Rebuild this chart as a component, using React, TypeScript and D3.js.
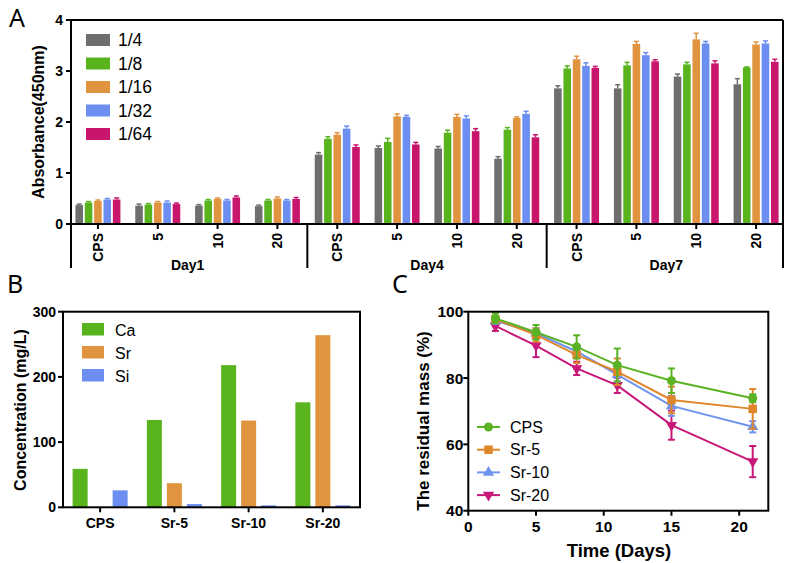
import React from 'react';
import * as d3 from 'd3';

const W = 789, H = 563;
const FONT = '"Liberation Sans", Arial, sans-serif';

// ---------- Panel A data ----------
const dilutions = ['1/4', '1/8', '1/16', '1/32', '1/64'];
const aColors = ['#6e6e6e', '#58b31c', '#e0943f', '#6b8ef0', '#c7166c'];
const concentrations = ['CPS', '5', '10', '20'];
const dayLabels = ['Day1', 'Day4', 'Day7'];
const abs14 = [0.37, 0.36, 0.36, 0.35, 1.36, 1.49, 1.48, 1.28, 2.66, 2.66, 2.89, 2.74];
const abs18 = [0.42, 0.38, 0.46, 0.46, 1.67, 1.61, 1.79, 1.85, 3.05, 3.11, 3.13, 3.07];
const abs116 = [0.45, 0.42, 0.49, 0.50, 1.75, 2.11, 2.10, 2.08, 3.23, 3.53, 3.62, 3.52];
const abs132 = [0.48, 0.42, 0.46, 0.46, 1.87, 2.10, 2.07, 2.16, 3.10, 3.31, 3.54, 3.54];
const abs164 = [0.48, 0.39, 0.52, 0.49, 1.51, 1.56, 1.82, 1.70, 3.06, 3.19, 3.15, 3.18];
const err14 = [0.02, 0.03, 0.02, 0.02, 0.04, 0.04, 0.04, 0.04, 0.05, 0.07, 0.05, 0.11];
const err18 = [0.02, 0.02, 0.02, 0.02, 0.04, 0.07, 0.05, 0.04, 0.05, 0.06, 0.04, 0.01];
const err116 = [0.02, 0.02, 0.02, 0.03, 0.04, 0.05, 0.05, 0.02, 0.06, 0.05, 0.12, 0.05];
const err132 = [0.02, 0.03, 0.02, 0.02, 0.05, 0.03, 0.05, 0.05, 0.06, 0.05, 0.04, 0.05];
const err164 = [0.03, 0.02, 0.03, 0.03, 0.04, 0.04, 0.05, 0.05, 0.03, 0.03, 0.05, 0.05];
const aTicks = [0, 1, 2, 3, 4];

// ---------- Panel B data ----------
const elements = ['Ca', 'Sr', 'Si'];
const bColors = ['#58b31c', '#e0943f', '#6b8ef0'];
const bGroups = ['CPS', 'Sr-5', 'Sr-10', 'Sr-20'];
const caConc = [59, 134, 218, 161];
const srConc = [0, 37, 133, 264];
const siConc = [26, 5, 3, 3];
const bTicks = [0, 100, 200, 300];

// ---------- Panel C data ----------
const cSeries = ['CPS', 'Sr-5', 'Sr-10', 'Sr-20'];
const cColors = ['#5ab324', '#e0862a', '#6f95ef', '#c8187a'];
const timeDays = [2, 5, 8, 11, 15, 21];
const massCPS = [98.0, 93.8, 89.4, 83.9, 79.2, 73.9];
const massSr5 = [97.7, 93.0, 87.0, 81.9, 73.4, 70.7];
const massSr10 = [97.3, 93.5, 88.0, 81.0, 71.6, 65.3];
const massSr20 = [95.7, 89.8, 82.9, 77.8, 65.8, 54.8];
const errCPS = [1.5, 2.2, 3.5, 5.0, 3.7, 1.2];
const errSr5 = [1.0, 2.0, 2.5, 4.0, 4.0, 6.0];
const errSr10 = [1.0, 1.5, 2.0, 2.0, 3.0, 1.7];
const errSr20 = [1.5, 3.5, 2.0, 2.3, 4.4, 4.7];
const cXTicks = [0, 5, 10, 15, 20];
const cYTicks = [40, 60, 80, 100];

function PanelA() {
  const series = [abs14, abs18, abs116, abs132, abs164];
  const errs = [err14, err18, err116, err132, err164];
  const cats = dayLabels.flatMap((d) => concentrations.map((c) => `${d}|${c}`));
  const x0 = d3.scaleBand<string>().domain(cats).range([68, 786]).padding(0);
  const x1 = d3.scaleBand<string>().domain(dilutions).range([0, 45]).paddingInner(0.19);
  const y = d3.scaleLinear().domain([0, 4]).range([224, 20]);
  const left = 71, right = 783, bottom = 224, top = 20, sepBottom = 268;
  const groupW = 45;
  return (
    <g>
      <text x={9} y={27} fontFamily='"Noto Sans", sans-serif' fontSize={25}>A</text>
      {series.map((vals, si) => (
        <g key={si} fill={aColors[si]} stroke={aColors[si]}>
          {vals.map((v, i) => {
            const cx = x0(cats[i])! + x0.bandwidth() / 2 - groupW / 2 + x1(dilutions[si])!;
            const bw = x1.bandwidth();
            const e = errs[si][i];
            return (
              <g key={i}>
                <rect x={cx} y={y(v)} width={bw} height={y(0) - y(v)} stroke="none" />
                <line x1={cx + bw / 2} x2={cx + bw / 2} y1={y(v)} y2={y(v + e)} strokeWidth={1.5} />
                <line x1={cx + bw / 2 - 2.5} x2={cx + bw / 2 + 2.5} y1={y(v + e)} y2={y(v + e)} strokeWidth={1.5} />
              </g>
            );
          })}
        </g>
      ))}
      {/* frame */}
      <g stroke="#000" strokeWidth={2} fill="none">
        <line x1={left} x2={right} y1={top} y2={top} />
        <line x1={left} x2={right} y1={bottom} y2={bottom} />
        <line x1={left} x2={left} y1={top} y2={sepBottom} />
        <line x1={right} x2={right} y1={top} y2={sepBottom} />
        {[1, 2].map((k) => {
          const xs = (x0(cats[k * 4 - 1])! + x0.bandwidth() + x0(cats[k * 4])!) / 2;
          return <line key={k} x1={xs} x2={xs} y1={bottom} y2={sepBottom} />;
        })}
        {aTicks.map((t) => (
          <line key={t} x1={left - 5} x2={left} y1={y(t)} y2={y(t)} />
        ))}
        {cats.map((c) => {
          const cx = x0(c)! + x0.bandwidth() / 2;
          return <line key={c} x1={cx} x2={cx} y1={bottom} y2={bottom + 5} />;
        })}
      </g>
      {aTicks.map((t) => (
        <text key={t} x={left - 8} y={y(t)} dy="0.36em" textAnchor="end" fontFamily={FONT} fontWeight="bold" fontSize={14}>{t}</text>
      ))}
      {cats.map((c) => {
        const cx = x0(c)! + x0.bandwidth() / 2;
        return (
          <text key={c} transform={`translate(${cx},233) rotate(-90)`} dy="0.36em" textAnchor="end" fontFamily={FONT} fontWeight="bold" fontSize={14}>{c.split('|')[1]}</text>
        );
      })}
      {dayLabels.map((d, k) => {
        const a = x0(cats[k * 4])!;
        const b = x0(cats[k * 4 + 3])! + x0.bandwidth();
        return <text key={d} x={(a + b) / 2} y={270} textAnchor="middle" fontFamily={FONT} fontWeight="bold" fontSize={14}>{d}</text>;
      })}
      <text transform="translate(44,122) rotate(-90)" textAnchor="middle" fontFamily={FONT} fontWeight="bold" fontSize={16}>Absorbance(450nm)</text>
      {dilutions.map((d, i) => (
        <g key={d}>
          <rect x={86} y={34 + i * 23.5} width={24} height={12} fill={aColors[i]} />
          <text x={118} y={46 + i * 23.5} fontFamily={FONT} fontSize={17.5}>{d}</text>
        </g>
      ))}
    </g>
  );
}

function PanelB() {
  const x0 = d3.scaleBand<string>().domain(bGroups).range([63, 360]).padding(0);
  const x1 = d3.scaleBand<string>().domain(elements).range([0, 55]).paddingInner(0.25);
  const y = d3.scaleLinear().domain([0, 300]).range([507.3, 311.7]);
  const series = [caConc, srConc, siConc];
  const left = 63, right = 360, top = 311.7, bottom = 507.3;
  return (
    <g>
      <text x={7} y={293} fontFamily='"Noto Sans", sans-serif' fontSize={25}>B</text>
      {series.map((vals, si) => (
        <g key={si} fill={bColors[si]}>
          {vals.map((v, i) => {
            const bx = x0(bGroups[i])! + x0.bandwidth() / 2 - 27.5 + x1(elements[si])!;
            return <rect key={i} x={bx} y={y(v)} width={x1.bandwidth()} height={y(0) - y(v)} />;
          })}
        </g>
      ))}
      <rect x={left} y={top} width={right - left} height={bottom - top} fill="none" stroke="#000" strokeWidth={2} />
      <g stroke="#000" strokeWidth={2}>
        {bTicks.map((t) => <line key={t} x1={left - 5} x2={left} y1={y(t)} y2={y(t)} />)}
        {bGroups.map((g) => {
          const cx = x0(g)! + x0.bandwidth() / 2;
          return <line key={g} x1={cx} x2={cx} y1={bottom} y2={bottom + 5} />;
        })}
      </g>
      {bTicks.map((t) => (
        <text key={t} x={left - 7} y={y(t)} dy="0.36em" textAnchor="end" fontFamily={FONT} fontWeight="bold" fontSize={14}>{t}</text>
      ))}
      {bGroups.map((g) => (
        <text key={g} x={x0(g)! + x0.bandwidth() / 2} y={528} textAnchor="middle" fontFamily={FONT} fontWeight="bold" fontSize={14}>{g}</text>
      ))}
      <text transform="translate(26,410) rotate(-90)" textAnchor="middle" fontFamily={FONT} fontWeight="bold" fontSize={16}>Concentration (mg/L)</text>
      {elements.map((e, i) => (
        <g key={e}>
          <rect x={82} y={323 + i * 23} width={22} height={12.5} fill={bColors[i]} />
          <text x={115} y={335.5 + i * 23} fontFamily={FONT} fontSize={16}>{e}</text>
        </g>
      ))}
    </g>
  );
}

function Marker({ kind, x, y, color }: { kind: number; x: number; y: number; color: string }) {
  const types = [d3.symbolCircle, d3.symbolSquare, d3.symbolTriangle, d3.symbolTriangle];
  const sizes = [64, 72, 55, 55];
  const path = d3.symbol().type(types[kind]).size(sizes[kind])()!;
  const rot = kind === 3 ? 180 : 0;
  return <path d={path} transform={`translate(${x},${y}) rotate(${rot})`} fill={color} />;
}

function PanelC() {
  const x = d3.scaleLinear().domain([0, 22.15]).range([468.3, 768.3]);
  const y = d3.scaleLinear().domain([40, 100]).range([510.7, 311.7]);
  const series = [massCPS, massSr5, massSr10, massSr20];
  const errs = [errCPS, errSr5, errSr10, errSr20];
  const left = 468.3, right = 768.3, top = 311.7, bottom = 510.7;
  const line = d3.line<number>().x((_, i) => x(timeDays[i])).y((v) => y(v));
  const order = [3, 2, 1, 0];
  return (
    <g>
      <text x={392} y={293} fontFamily='"Noto Sans", sans-serif' fontSize={25}>C</text>
      {order.map((si) => (
        <g key={si}>
          <path d={line(series[si])!} fill="none" stroke={cColors[si]} strokeWidth={2} />
          {series[si].map((v, i) => {
            const e = errs[si][i];
            const px = x(timeDays[i]);
            return (
              <g key={i} stroke={cColors[si]} strokeWidth={2}>
                <line x1={px} x2={px} y1={y(v - e)} y2={y(v + e)} />
                <line x1={px - 3.5} x2={px + 3.5} y1={y(v - e)} y2={y(v - e)} />
                <line x1={px - 3.5} x2={px + 3.5} y1={y(v + e)} y2={y(v + e)} />
              </g>
            );
          })}
          {series[si].map((v, i) => (
            <Marker key={i} kind={si} x={x(timeDays[i])} y={y(v)} color={cColors[si]} />
          ))}
        </g>
      ))}
      <rect x={left} y={top} width={right - left} height={bottom - top} fill="none" stroke="#000" strokeWidth={2} />
      <g stroke="#000" strokeWidth={2}>
        {cYTicks.map((t) => <line key={t} x1={left - 5} x2={left} y1={y(t)} y2={y(t)} />)}
        {cXTicks.map((t) => <line key={t} x1={x(t)} x2={x(t)} y1={bottom} y2={bottom + 5} />)}
      </g>
      {cYTicks.map((t) => (
        <text key={t} x={left - 5} y={y(t)} dy="0.36em" textAnchor="end" fontFamily={FONT} fontWeight="bold" fontSize={15.5}>{t}</text>
      ))}
      {cXTicks.map((t) => (
        <text key={t} x={x(t)} y={532} textAnchor="middle" fontFamily={FONT} fontWeight="bold" fontSize={15.5}>{t}</text>
      ))}
      <text transform="translate(429,421) rotate(-90)" textAnchor="middle" fontFamily={FONT} fontWeight="bold" fontSize={17}>The residual mass (%)</text>
      <text x={619} y={557} textAnchor="middle" fontFamily={FONT} fontWeight="bold" fontSize={18.5}>Time (Days)</text>
      {cSeries.map((s, i) => (
        <g key={s}>
          <line x1={477} x2={500} y1={427 + i * 22.7} y2={427 + i * 22.7} stroke={cColors[i]} strokeWidth={2} />
          <Marker kind={i} x={488.5} y={427 + i * 22.7} color={cColors[i]} />
          <text x={510} y={427 + i * 22.7} dy="0.36em" fontFamily={FONT} fontSize={16}>{s}</text>
        </g>
      ))}
    </g>
  );
}

export default function App() {
  return (
    <svg width={W} height={H} viewBox={`0 0 ${W} ${H}`} style={{ position: 'absolute', left: 0, top: 0, background: '#fff' }}>
      <rect width={W} height={H} fill="#fff" />
      <PanelA />
      <PanelB />
      <PanelC />
    </svg>
  );
}
